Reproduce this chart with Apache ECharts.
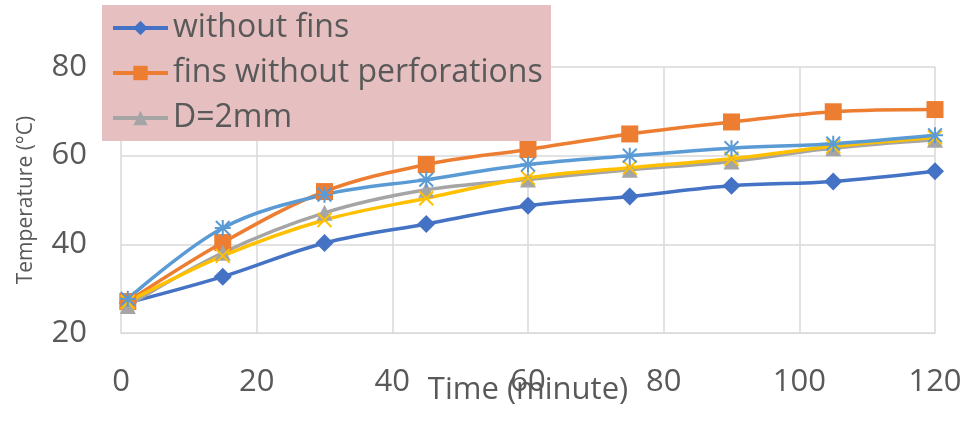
<!DOCTYPE html>
<html>
<head>
<meta charset="utf-8">
<script src="https://cdn.jsdelivr.net/npm/echarts@6/dist/echarts.min.js"></script>
<style>
html,body{margin:0;padding:0;background:#fff;}
#c{width:965px;height:425px;}
</style>
</head>
<body>
<div id="c"></div>
<script>
var times = [1, 15, 30, 45, 60, 75, 90, 105, 120];
var withoutFins = [26.8, 32.7, 40.3, 44.6, 48.7, 50.8, 53.2, 54.2, 56.5];
var finsNoPerf = [27.1, 40.4, 51.9, 58.0, 61.4, 64.9, 67.6, 69.9, 70.4];
var d2mm = [26.1, 38.1, 47.1, 52.3, 54.6, 56.8, 58.7, 61.7, 63.6];
var series4 = [27.0, 37.4, 45.5, 50.4, 55.0, 57.3, 59.3, 62.1, 64.1];
var series5 = [27.7, 43.7, 51.2, 54.6, 58.0, 60.0, 61.7, 62.7, 64.6];
var seriesNames = ['without fins', 'fins without perforations', 'D=2mm', 'D=4mm', 'D=6mm'];
var xTicks = [0, 20, 40, 60, 80, 100, 120];
var yTicks = [20, 40, 60, 80];

function pairs(vals){ return times.map(function(t,i){ return [t, vals[i]]; }); }

var FONT = 'Open Sans';
var TXT = '#595959';
var starPath = 'path://M5,0L5,10M0.7,0.7L9.3,9.3M9.3,0.7L0.7,9.3M0,5L10,5';
var xPath = 'path://M0,0L10,10M10,0L0,10';

function mk(name, vals, color, symbol, size, stroke){
  var s = {
    name: name, type: 'line', data: pairs(vals), smooth: 0.35,
    symbol: symbol, symbolSize: size,
    lineStyle: {color: color, width: 3.5},
    itemStyle: {color: color},
    emphasis: {disabled: true}
  };
  if (stroke) {
    s.itemStyle = {color: 'rgba(0,0,0,0)', borderColor: color, borderWidth: 2};
  }
  return s;
}

var chart = echarts.init(document.getElementById('c'));
chart.setOption({
  animation: false,
  backgroundColor: '#ffffff',
  grid: {left: 121, right: 30, top: 67, bottom: 92, containLabel: false, outerBoundsMode: 'none'},
  graphic: [{
    type: 'rect', left: 102, top: 5, z: 5,
    shape: {width: 449, height: 136},
    style: {fill: '#e6bfc0'}
  }],
  legend: {
    data: seriesNames.slice(0, 3),
    orient: 'vertical', left: 111, top: 12, z: 10, padding: 0,
    itemWidth: 55, itemHeight: 18, itemGap: 13,
    lineStyle: {width: 4},
    textStyle: {fontFamily: FONT, fontSize: 32, color: TXT},
    selectedMode: false
  },
  xAxis: {
    type: 'value', min: 0, max: 120, interval: 20,
    name: 'Time (minute)', nameLocation: 'middle', nameGap: 42, nameMoveOverlap: false,
    nameTextStyle: {fontFamily: FONT, fontSize: 31, color: TXT},
    axisLine: {show: true, lineStyle: {color: '#d9d9d9', width: 1}},
    axisTick: {show: false},
    splitLine: {show: true, lineStyle: {color: '#d9d9d9', width: 1.5}},
    axisLabel: {fontFamily: FONT, fontSize: 31, color: TXT, margin: 34,
      formatter: function(v){ return xTicks.indexOf(v) >= 0 ? String(v) : ''; }}
  },
  yAxis: {
    type: 'value', min: 20, max: 80, interval: 20,
    name: 'Temperature (°C)', nameLocation: 'middle', nameGap: 84, nameMoveOverlap: false,
    nameTextStyle: {fontFamily: FONT, fontSize: 21, color: TXT},
    axisLine: {show: false},
    axisTick: {show: false},
    splitLine: {show: true, lineStyle: {color: '#d9d9d9', width: 1.5}},
    axisLabel: {fontFamily: FONT, fontSize: 31, color: TXT, margin: 34,
      formatter: function(v){ return yTicks.indexOf(v) >= 0 ? String(v) : ''; }}
  },
  series: [
    mk(seriesNames[0], withoutFins, '#4472C4', 'diamond', 18),
    mk(seriesNames[1], finsNoPerf, '#ED7D31', 'rect', 17),
    mk(seriesNames[2], d2mm, '#A5A5A5', 'triangle', 16),
    mk(seriesNames[3], series4, '#FFC000', xPath, 14, true),
    mk(seriesNames[4], series5, '#5B9BD5', starPath, 16, true)
  ]
});
</script>
</body>
</html>
